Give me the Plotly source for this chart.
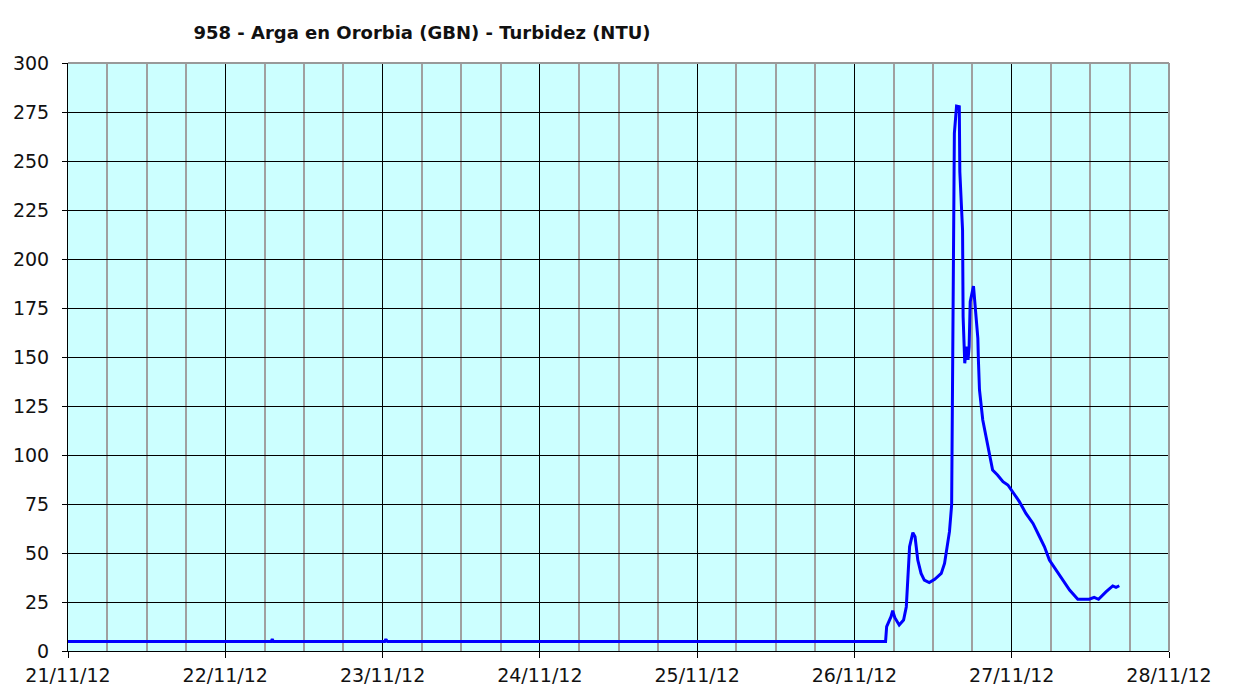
import plotly.graph_objects as go

# Data (time stamps and turbidity in NTU)
times = [
    "2012-11-21 00:00", "2012-11-22 07:00", "2012-11-22 07:10", "2012-11-22 07:20",
    "2012-11-23 00:20", "2012-11-23 00:30", "2012-11-23 00:45",
    "2012-11-26 04:45", "2012-11-26 04:55", "2012-11-26 05:35", "2012-11-26 05:50",
    "2012-11-26 06:10", "2012-11-26 06:50", "2012-11-26 07:30", "2012-11-26 07:55",
    "2012-11-26 08:10", "2012-11-26 08:25", "2012-11-26 08:55", "2012-11-26 09:15",
    "2012-11-26 09:40", "2012-11-26 10:10", "2012-11-26 10:40", "2012-11-26 11:25",
    "2012-11-26 12:15", "2012-11-26 13:15", "2012-11-26 13:45", "2012-11-26 14:10",
    "2012-11-26 14:30", "2012-11-26 14:50", "2012-11-26 14:55", "2012-11-26 15:00",
    "2012-11-26 15:05", "2012-11-26 15:15", "2012-11-26 15:35", "2012-11-26 16:00",
    "2012-11-26 16:05", "2012-11-26 16:30", "2012-11-26 16:35", "2012-11-26 16:50",
    "2012-11-26 17:05", "2012-11-26 17:20", "2012-11-26 17:30", "2012-11-26 17:40",
    "2012-11-26 18:10", "2012-11-26 18:30", "2012-11-26 18:50", "2012-11-26 18:55",
    "2012-11-26 19:05", "2012-11-26 19:35", "2012-11-26 20:05", "2012-11-26 20:35",
    "2012-11-26 21:05", "2012-11-26 21:50", "2012-11-26 22:40", "2012-11-26 23:25",
    "2012-11-27 00:10", "2012-11-27 01:10", "2012-11-27 02:10", "2012-11-27 03:15",
    "2012-11-27 04:15", "2012-11-27 05:00", "2012-11-27 05:45", "2012-11-27 06:45",
    "2012-11-27 07:50", "2012-11-27 08:50", "2012-11-27 10:05", "2012-11-27 11:50",
    "2012-11-27 12:35", "2012-11-27 13:15", "2012-11-27 14:25", "2012-11-27 15:25",
    "2012-11-27 15:55", "2012-11-27 16:25",
]
turbidity = [
    4.8, 4.8, 6.0, 4.8,
    4.8, 6.0, 4.8,
    4.8, 12.4, 17.5, 20.6,
    17.0, 13.3, 15.8, 22.6,
    39.6, 53.2, 60.4, 58.3,
    46.4, 39.6, 36.2, 34.9,
    36.6, 39.6, 44.7, 53.2,
    60.9, 74.5, 107.7, 138.3,
    190.2, 264.1, 278.0, 277.7,
    244.5, 214.8, 170.6, 146.8,
    155.3, 148.5, 155.3, 178.2,
    186.2, 174.0, 159.5, 148.5,
    133.2, 117.9, 109.3, 100.9,
    92.3, 89.8, 86.4, 84.7,
    81.3, 76.2, 70.2, 65.1,
    58.3, 53.2, 46.4, 41.3,
    36.2, 31.1, 26.4, 26.4,
    27.4, 26.4, 30.3, 33.2,
    32.5, 33.3,
]

title_text = "958 - Arga en Ororbia (GBN) - Turbidez (NTU)"
x_range = ["2012-11-21 00:00", "2012-11-28 00:00"]
y_range = [0, 300]

fig = go.Figure()
fig.add_trace(go.Scatter(
    x=times, y=turbidity, mode="lines",
    line=dict(color="#0000FF", width=3),
    showlegend=False, hoverinfo="x+y",
))

font_family = "DejaVu Sans, Verdana, sans-serif"

fig.update_layout(
    width=1251, height=686,
    margin=dict(l=60, r=90, t=55, b=43, autoexpand=False),
    paper_bgcolor="white",
    plot_bgcolor="#CCFFFF",
    font=dict(family=font_family, size=19, color="#111111"),
    title=dict(
        text="<b>" + title_text + "</b>",
        x=0.3215, xref="paper", xanchor="center",
        y=1 - 25 / 686, yref="container", yanchor="middle",
        font=dict(family=font_family, size=18, color="#111111"),
    ),
    xaxis=dict(
        type="date", range=x_range,
        dtick=86400000, tick0="2012-11-21",
        tickformat="%d/%m/%y",
        showgrid=True, gridcolor="#000000", gridwidth=1,
        minor=dict(dtick=21600000, showgrid=True, gridcolor="#A0A0A0", gridwidth=2, ticks=""),
        showline=True, linecolor="#000000", linewidth=1,
        ticks="outside", ticklen=6, tickcolor="#000000",
        ticklabelstandoff=1,
        zeroline=False, fixedrange=True, automargin=False,
    ),
    yaxis=dict(
        range=y_range, dtick=25, tick0=0,
        showgrid=True, gridcolor="#000000", gridwidth=1,
        showline=True, linecolor="#000000", linewidth=1,
        ticks="outside", ticklen=5, tickcolor="#000000",
        ticklabelstandoff=9,
        zeroline=False, fixedrange=True, automargin=False,
    ),
    shapes=[
        dict(type="line", xref="paper", yref="paper", x0=0, x1=1, y0=1, y1=1,
             line=dict(color="#999999", width=2), layer="above"),
        dict(type="line", xref="paper", yref="paper", x0=1, x1=1, y0=0, y1=1,
             line=dict(color="#999999", width=2), layer="above"),
    ],
)

fig.write_html("out.html")
